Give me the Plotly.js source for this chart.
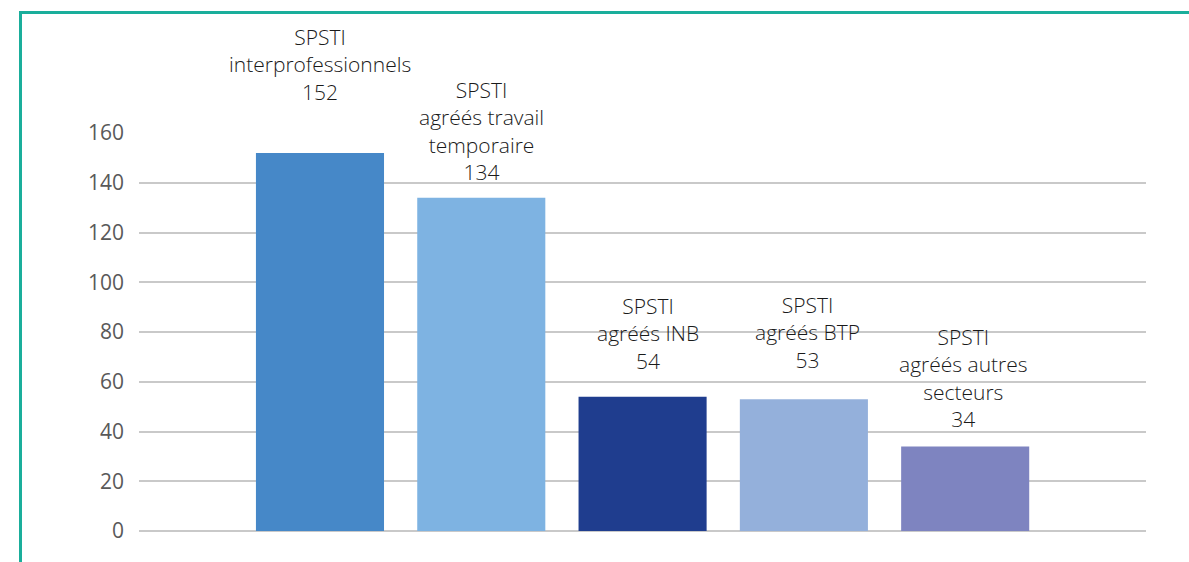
<!DOCTYPE html>
<html>
<head>
<meta charset="utf-8">
<script src="https://cdn.plot.ly/plotly-3.0.1.min.js"></script>
<style>
  body { margin: 0; background: #fff; }
  #plot { width: 1189px; height: 562px; }
  #frame {
    position: absolute; left: 19px; top: 11px; width: 1170px; height: 551px;
    border-top: 3px solid #1AAE9B; border-left: 3px solid #1AAE9B;
    pointer-events: none; box-sizing: border-box;
  }
</style>
</head>
<body>
<div id="plot"></div>
<div id="frame"></div>
<script>
// categories and values
let categories = [
  "SPSTI<br>interprofessionnels",
  "SPSTI<br>agréés travail<br>temporaire",
  "SPSTI<br>agréés INB",
  "SPSTI<br>agréés BTP",
  "SPSTI<br>agréés autres<br>secteurs"
];
let values = [152, 134, 54, 53, 34];
let barColors = ["#4688C8", "#7EB3E2", "#1F3D8E", "#94B0DB", "#7E84C0"];
let labelShift = [45, 10, 20, 23, 11];
let labelDx = [0, 0, 5, 4, -2];

let trace = {
  x: categories,
  y: values,
  type: "bar",
  marker: { color: barColors },
  hoverinfo: "none"
};

// data labels above the bars
let annotations = categories.map(function (cat, i) {
  return {
    x: cat,
    y: values[i],
    text: cat + "<br>" + values[i],
    showarrow: false,
    yanchor: "bottom",
    yshift: labelShift[i],
    xshift: labelDx[i],
    font: { family: "'Open Sans', 'Noto Sans', sans-serif", size: 21, weight: 300, color: "#1a1a1a" }
  };
});

let layout = {
  width: 1189,
  height: 562,
  margin: { l: 139, r: 43, t: 133, b: 31 },
  paper_bgcolor: "#fff",
  plot_bgcolor: "#fff",
  showlegend: false,
  bargap: 0.206,
  xaxis: {
    range: [-1.122, 5.121],
    showticklabels: false,
    showgrid: false,
    zeroline: false,
    fixedrange: true
  },
  yaxis: {
    range: [0, 160],
    dtick: 20,
    tick0: 0,
    gridcolor: "#C9C9C9",
    gridwidth: 2,
    zeroline: true,
    zerolinecolor: "#C9C9C9",
    zerolinewidth: 2,
    ticks: "",
    ticklabelstandoff: 14,
    tickfont: { family: "'Open Sans', 'Noto Sans', sans-serif", size: 21, color: "#595959" },
    fixedrange: true
  },
  annotations: annotations
};

Plotly.newPlot("plot", [trace], layout, { displayModeBar: false, staticPlot: true });
</script>
</body>
</html>
